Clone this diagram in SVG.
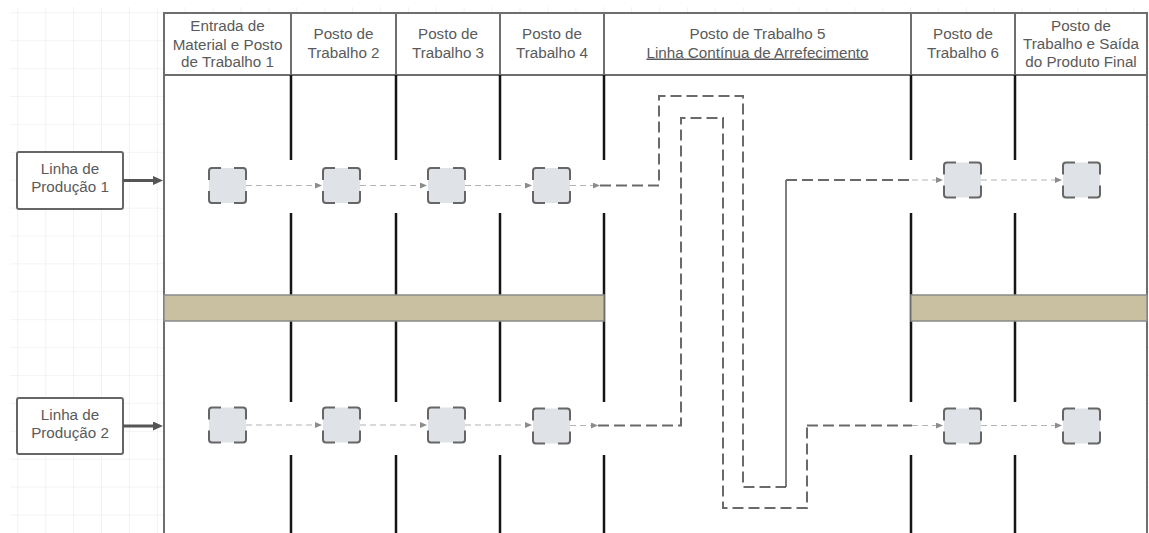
<svg xmlns="http://www.w3.org/2000/svg" width="1149" height="533" viewBox="0 0 1149 533">
  <style>
    .txt { font-family: "Liberation Sans", Arial, sans-serif; font-size: 15.2px; fill: #5a5a5a; text-anchor: middle; }
    .hdr-border { fill: none; stroke: #6e6e6e; stroke-width: 2; }
    .hdr-sep { stroke: #6e6e6e; stroke-width: 2; }
    .col-sep { stroke: #151515; stroke-width: 2.5; }
    .bar { fill: #c9c0a2; stroke: #8a8a8a; stroke-width: 1.5; }
    .flow { fill: none; stroke: #b4b4b4; stroke-width: 1.2; stroke-dasharray: 6 4; marker-end: url(#tip-small); }
    .loop { fill: none; stroke: #6a6a6a; stroke-width: 2; stroke-dasharray: 11 5; }
    .feed { stroke: #555; stroke-width: 3; marker-end: url(#tip-big); }
    .label-box { fill: #fff; stroke: #666; stroke-width: 2; }
  </style>
  <defs>
    <pattern id="grid" patternUnits="userSpaceOnUse" x="17.3" y="12.3" width="27.9" height="27.9">
      <path d="M0,0 H27.9 M0,0 V27.9" stroke="#e9e9e9" stroke-width="1.2" fill="none"/>
    </pattern>
    <marker id="tip-small" markerUnits="userSpaceOnUse" markerWidth="8" markerHeight="6" refX="0" refY="3" orient="auto">
      <path d="M0,0 L7,3 L0,6 z" fill="#8c8c8c"/>
    </marker>
    <marker id="tip-big" markerUnits="userSpaceOnUse" markerWidth="11" markerHeight="10" refX="0" refY="4.5" orient="auto">
      <path d="M0,0 L10,4.5 L0,9 z" fill="#555"/>
    </marker>
    <!-- work station: grey square with corner brackets -->
    <g id="station">
      <rect x="0" y="0" width="37" height="35" rx="3" fill="#dfe2e7"/>
      <path d="M0,12 V3 Q0,0 3,0 H12 M25,0 H34 Q37,0 37,3 V12 M37,23 V32 Q37,35 34,35 H25 M12,35 H3 Q0,35 0,32 V23" fill="none" stroke="#666" stroke-width="2"/>
    </g>
  </defs>

  <!-- canvas background -->
  <rect width="1149" height="533" fill="#fff"/>
  <rect x="10" y="7" width="1139" height="526" fill="url(#grid)"/>

  <!-- floor plan table -->
  <g id="floor">
    <rect x="164" y="13" width="983" height="530" fill="#fff"/>
    <path d="M164,13 V533 M1147,13 V533" class="hdr-border"/>
    <rect x="164" y="13" width="983" height="62" class="hdr-border"/>
    <path d="M291,13 V75 M396,13 V75 M500,13 V75 M604,13 V75 M911,13 V75 M1015,13 V75" class="hdr-sep"/>
    <path d="M291,75 V160 M291,213 V533 M396,75 V160 M396,213 V533 M500,75 V160 M500,213 V533 M604,75 V160 M604,213 V533 M911,75 V160 M911,213 V533 M1015,75 V160 M1015,213 V533" class="col-sep"/>
    <path d="M291,402 V455 M396,402 V455 M500,402 V455 M604,402 V455 M911,402 V455 M1015,402 V455" stroke="#fff" stroke-width="4"/>
    <rect x="164" y="295" width="440" height="26" class="bar"/>
    <rect x="911" y="295" width="236" height="26" class="bar"/>
  </g>

  <!-- column headers -->
  <g id="headers" class="txt">
    <text x="227.5" y="31">Entrada de</text>
    <text x="227.5" y="49.5">Material e Posto</text>
    <text x="227.5" y="67">de Trabalho 1</text>
    <text x="343.5" y="39">Posto de</text>
    <text x="343.5" y="57.5">Trabalho 2</text>
    <text x="448" y="39">Posto de</text>
    <text x="448" y="57.5">Trabalho 3</text>
    <text x="552" y="39">Posto de</text>
    <text x="552" y="57.5">Trabalho 4</text>
    <text x="757.5" y="39">Posto de Trabalho 5</text>
    <text x="757.5" y="57.5" text-decoration="underline">Linha Contínua de Arrefecimento</text>
    <text x="963" y="39">Posto de</text>
    <text x="963" y="57.5">Trabalho 6</text>
    <text x="1081" y="30.5">Posto de</text>
    <text x="1081" y="48.5">Trabalho e Saída</text>
    <text x="1081" y="66.5">do Produto Final</text>
  </g>

  <!-- production line labels -->
  <g id="line1">
    <rect x="17" y="152" width="106" height="57" rx="2" class="label-box"/>
    <text class="txt" x="70" y="174">Linha de</text>
    <text class="txt" x="70" y="192">Produção 1</text>
  </g>
  <g id="line2">
    <rect x="17" y="398" width="106" height="56" rx="2" class="label-box"/>
    <text class="txt" x="70" y="419.5">Linha de</text>
    <text class="txt" x="70" y="437.5">Produção 2</text>
  </g>

  <!-- stations, line 1 -->
  <g id="l1-s1"><use href="#station" x="209" y="168"/></g>
  <g id="l1-s2"><use href="#station" x="323" y="168"/></g>
  <g id="l1-s3"><use href="#station" x="428" y="168"/></g>
  <g id="l1-s4"><use href="#station" x="533" y="168"/></g>
  <g id="l1-s6"><use href="#station" x="944" y="162.5"/></g>
  <g id="l1-s7"><use href="#station" x="1063" y="162.5"/></g>

  <!-- stations, line 2 -->
  <g id="l2-s1"><use href="#station" x="209" y="407.5"/></g>
  <g id="l2-s2"><use href="#station" x="323" y="407.5"/></g>
  <g id="l2-s3"><use href="#station" x="428" y="407.5"/></g>
  <g id="l2-s4"><use href="#station" x="533" y="408.5"/></g>
  <g id="l2-s6"><use href="#station" x="944" y="408.5"/></g>
  <g id="l2-s7"><use href="#station" x="1063" y="408.5"/></g>

  <!-- connectors -->
  <g id="connectors">
    <line x1="123" y1="180.5" x2="153" y2="180.5" class="feed"/>
    <line x1="123" y1="426" x2="153" y2="426" class="feed"/>

    <!-- line 1 -->
    <line x1="246" y1="185.5" x2="315" y2="185.5" class="flow"/>
    <line x1="360" y1="185.5" x2="420" y2="185.5" class="flow"/>
    <line x1="465" y1="185.5" x2="525" y2="185.5" class="flow"/>
    <line x1="570" y1="185.5" x2="593" y2="185.5" class="flow"/>
    <path d="M600,185.5 H659 V96 H743 V487 H786" class="loop"/>
    <path d="M786,487 V180" fill="none" stroke="#555" stroke-width="1.5"/>
    <path d="M786,180 H912" class="loop" stroke-dasharray="12 3"/>
    <line x1="912" y1="180" x2="936" y2="180" class="flow"/>
    <line x1="981" y1="180" x2="1055" y2="180" class="flow"/>

    <!-- line 2 -->
    <line x1="246" y1="425" x2="315" y2="425" class="flow"/>
    <line x1="360" y1="425" x2="420" y2="425" class="flow"/>
    <line x1="465" y1="425" x2="525" y2="425" class="flow"/>
    <line x1="570" y1="425.5" x2="591" y2="425.5" class="flow"/>
    <path d="M598,425.5 H681 V118 H723 V508 H807 V425.5" class="loop"/>
    <path d="M807,425.5 H912" class="loop" stroke-dasharray="14 2"/>
    <line x1="912" y1="425.5" x2="936" y2="425.5" class="flow"/>
    <line x1="981" y1="425.5" x2="1055" y2="425.5" class="flow"/>
  </g>
</svg>
